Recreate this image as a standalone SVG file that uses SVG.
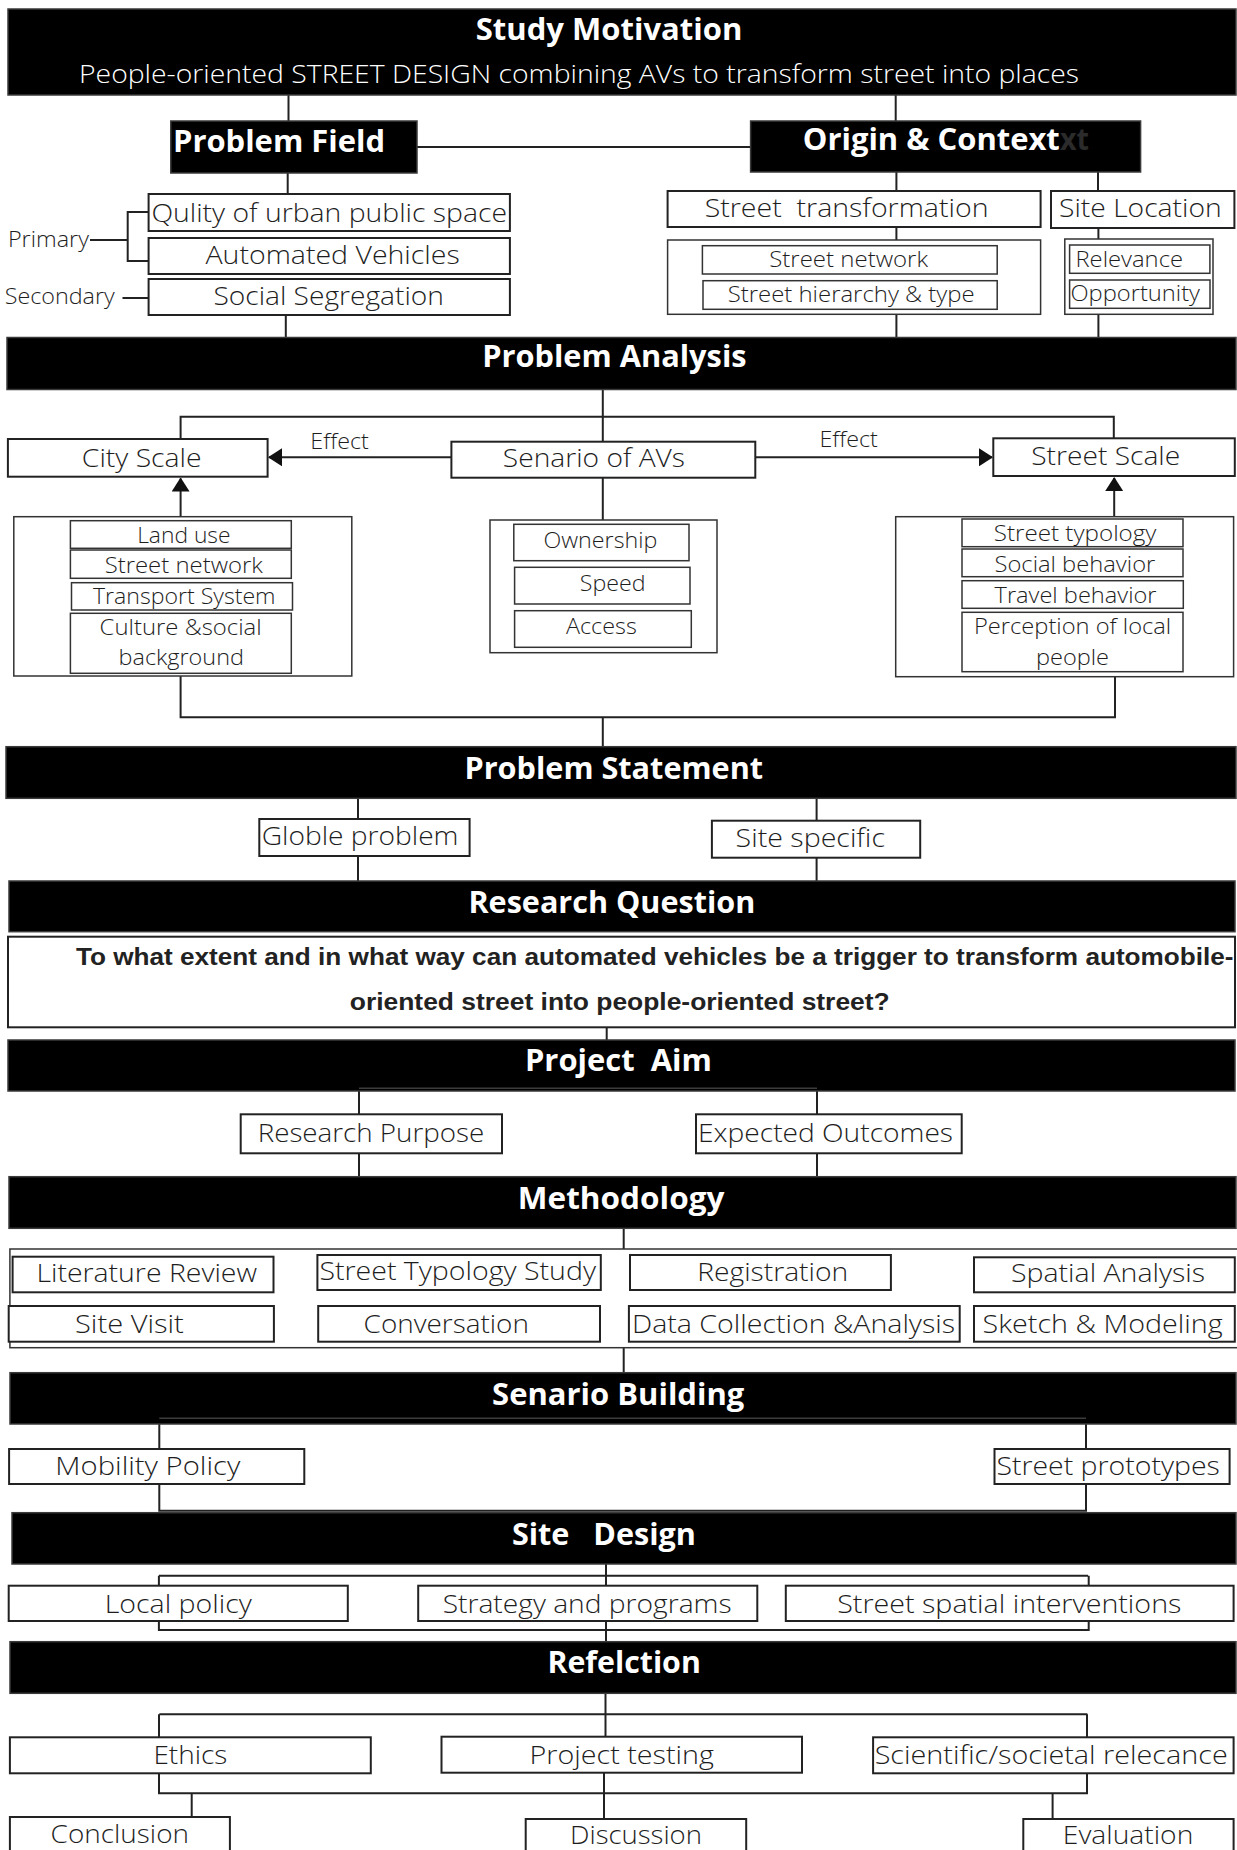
<svg xmlns="http://www.w3.org/2000/svg" width="1237" height="1850" viewBox="0 0 1237 1850">
  <defs>
    <marker id="ah" markerUnits="userSpaceOnUse" markerWidth="14" markerHeight="18" refX="13" refY="9" orient="auto">
      <path d="M0,0 L14,9 L0,18 z" fill="#111"/>
    </marker>
    <style>
      .bar { fill:#000; stroke:#3a3a3a; stroke-width:1.5; }
      .box { fill:#fff; stroke:#222; stroke-width:2; }
      .thin { fill:#fff; stroke:#333; stroke-width:1.5; }
      .ln { fill:none; stroke:#222; stroke-width:2; }
      .join { fill:none; stroke:#3c3c3c; stroke-width:1.5; }
      .h { font-family:"Open Sans","Liberation Sans",sans-serif; font-weight:700; font-size:30px; fill:#fff; }
      .t { font-family:"Open Sans","Liberation Sans",sans-serif; font-weight:300; font-size:26px; fill:#1e1e1e; }
      .s { font-family:"Open Sans","Liberation Sans",sans-serif; font-weight:300; font-size:22px; fill:#1e1e1e; }
      .q { font-family:"Liberation Sans",Arial,sans-serif; font-weight:700; font-size:23px; fill:#222; }
    </style>
  </defs>
  <rect width="1237" height="1850" fill="#fff"/>

  <!-- connectors -->
  <g id="connectors">
    <path class="ln" d="M288.5,95 V121"/>
    <path class="ln" d="M895.7,95 V121"/>
    <path class="ln" d="M417,147 H750.6"/>
    <path class="ln" d="M287.7,173 V194"/>
    <path class="ln" d="M90,240 H127.7"/>
    <path class="ln" d="M148.6,212 H127.7 V261 H148.6"/>
    <path class="ln" d="M122.5,298 H148.6"/>
    <path class="ln" d="M285.8,315 V338"/>
    <path class="ln" d="M896.4,172 V191"/>
    <path class="ln" d="M1098,172 V191"/>
    <path class="ln" d="M896.4,227 V240"/>
    <path class="ln" d="M896.4,314 V338"/>
    <path class="ln" d="M1098.4,228 V239"/>
    <path class="ln" d="M1098.4,314 V338"/>
    <path class="ln" d="M602.8,389 V441.7"/>
    <path class="ln" d="M180.6,439 V416.7 H1113.8 V438.3"/>
    <path class="ln" d="M602.8,477.7 V520"/>
    <path class="ln" d="M451.4,457.3 H269" marker-end="url(#ah)"/>
    <path class="ln" d="M755.3,457.3 H992" marker-end="url(#ah)"/>
    <path class="ln" d="M180.6,516.7 V478.5" marker-end="url(#ah)"/>
    <path class="ln" d="M1114.2,516.7 V478" marker-end="url(#ah)"/>
    <path class="ln" d="M180.6,676 V717.3 H1115 V676.7"/>
    <path class="ln" d="M602.8,717.3 V746.7"/>
    <path class="ln" d="M358,798.3 V819"/>
    <path class="ln" d="M358,856 V881"/>
    <path class="ln" d="M816.6,798.3 V820.7"/>
    <path class="ln" d="M816.6,857.7 V881"/>
    <path class="ln" d="M606.7,1027.3 V1040"/>
    <path class="ln" d="M359,1088.3 V1176.7"/>
    <path class="ln" d="M817,1088.3 V1176.7"/>
    <path class="ln" d="M623.7,1228.3 V1249"/>
    <path class="ln" d="M623.7,1347.7 V1372.7"/>
    <path class="ln" d="M159.3,1418.3 V1510.7 H1086 V1418.3"/>
    <path class="ln" d="M606,1564 V1585.7"/>
    <path class="ln" d="M158.9,1575.7 H1088.1"/>
    <path class="ln" d="M158.9,1575.7 V1630 H1088.7 V1575.7"/>
    <path class="ln" d="M606,1621 V1641.7"/>
    <path class="ln" d="M605.5,1693.3 V1736.7"/>
    <path class="ln" d="M159.3,1714.3 H1087.4"/>
    <path class="ln" d="M159,1714.3 V1793.3 H1087 V1714.3"/>
    <path class="ln" d="M604,1772.7 V1819"/>
    <path class="ln" d="M191.7,1793.3 V1817"/>
    <path class="ln" d="M1052.6,1793.3 V1819"/>
  </g>

  <!-- section bars -->
  <g id="study-motivation">
    <rect class="bar" x="8" y="9" width="1228" height="86"/>
    <text class="h" x="475.7" y="40" textLength="266.7" lengthAdjust="spacingAndGlyphs">Study Motivation</text>
    <text class="t" x="79" y="83" fill="#fff" style="fill:#fff" textLength="1000" lengthAdjust="spacingAndGlyphs">People-oriented STREET DESIGN combining AVs to transform street into places</text>
  </g>
  <g id="problem-field">
    <rect class="bar" x="170.8" y="121" width="246.2" height="52"/>
    <text class="h" x="173" y="152" textLength="212" lengthAdjust="spacingAndGlyphs">Problem Field</text>
  </g>
  <g id="origin-context">
    <rect class="bar" x="750.6" y="121" width="390" height="51"/>
    <text class="h" x="802.8" y="150" textLength="257" lengthAdjust="spacingAndGlyphs">Origin &amp; Context</text>
    <text class="h" x="1060" y="150" style="fill:#2b2b2b" textLength="29" lengthAdjust="spacingAndGlyphs">xt</text>
  </g>
  <g id="quality">
    <rect class="box" x="148.6" y="194" width="361.3" height="37"/>
    <text class="t" x="151.4" y="222" textLength="355.6" lengthAdjust="spacingAndGlyphs">Qulity of urban public space</text>
  </g>
  <g id="automated-vehicles">
    <rect class="box" x="148.6" y="238" width="361.3" height="36"/>
    <text class="t" x="205.5" y="264" textLength="254.2" lengthAdjust="spacingAndGlyphs">Automated Vehicles</text>
  </g>
  <g id="social-segregation">
    <rect class="box" x="148.6" y="279" width="361.3" height="36"/>
    <text class="t" x="213.4" y="305" textLength="230.5" lengthAdjust="spacingAndGlyphs">Social Segregation</text>
  </g>
  <g id="primary-label">
    <text class="s" x="7.9" y="247" textLength="81" lengthAdjust="spacingAndGlyphs">Primary</text>
  </g>
  <g id="secondary-label">
    <text class="s" x="4.7" y="304" textLength="110" lengthAdjust="spacingAndGlyphs">Secondary</text>
  </g>
  <g id="street-transformation">
    <rect class="box" x="667.6" y="191" width="373" height="36"/>
    <text class="t" x="704.7" y="217" textLength="283.8" lengthAdjust="spacingAndGlyphs" xml:space="preserve">Street  transformation</text>
  </g>
  <g id="site-location">
    <rect class="box" x="1051" y="191" width="183.4" height="37"/>
    <text class="t" x="1059" y="217" textLength="162.7" lengthAdjust="spacingAndGlyphs">Site Location</text>
  </g>
  <g id="street-transformation-items">
    <rect class="thin" x="667.6" y="240" width="373" height="74.3"/>
    <rect class="thin" x="702.4" y="245.7" width="294.8" height="28.3"/>
    <text class="s" x="769.2" y="266.7" textLength="158.9" lengthAdjust="spacingAndGlyphs">Street network</text>
    <rect class="thin" x="703" y="280.7" width="294.2" height="28.6"/>
    <text class="s" x="727.7" y="301.7" textLength="247" lengthAdjust="spacingAndGlyphs">Street hierarchy &amp; type</text>
  </g>
  <g id="site-location-items">
    <rect class="thin" x="1064.8" y="239" width="148.2" height="75.3"/>
    <rect class="thin" x="1069.6" y="245" width="140.3" height="28.3"/>
    <text class="s" x="1075.5" y="266.7" textLength="107.5" lengthAdjust="spacingAndGlyphs">Relevance</text>
    <rect class="thin" x="1069.6" y="280" width="140.4" height="28.3"/>
    <text class="s" x="1070.4" y="301" textLength="129.6" lengthAdjust="spacingAndGlyphs">Opportunity</text>
  </g>

  <g id="problem-analysis">
    <rect class="bar" x="7" y="337.5" width="1229" height="52"/>
    <text class="h" x="482.2" y="367.3" textLength="264.4" lengthAdjust="spacingAndGlyphs">Problem Analysis</text>
  </g>
  <g id="city-scale">
    <rect class="box" x="7.9" y="439" width="259.7" height="37.7"/>
    <text class="t" x="81.8" y="466.7" textLength="119.8" lengthAdjust="spacingAndGlyphs">City Scale</text>
  </g>
  <g id="effect-left">
    <text class="s" x="310.3" y="449.3" textLength="58.5" lengthAdjust="spacingAndGlyphs">Effect</text>
  </g>
  <g id="senario-avs">
    <rect class="box" x="451.4" y="441.7" width="303.9" height="36"/>
    <text class="t" x="502.8" y="466.7" textLength="182.2" lengthAdjust="spacingAndGlyphs">Senario of AVs</text>
  </g>
  <g id="effect-right">
    <text class="s" x="819.4" y="447.3" textLength="58.5" lengthAdjust="spacingAndGlyphs">Effect</text>
  </g>
  <g id="street-scale">
    <rect class="box" x="993.3" y="438.3" width="241.5" height="37.7"/>
    <text class="t" x="1031.2" y="465" textLength="149" lengthAdjust="spacingAndGlyphs">Street Scale</text>
  </g>
  <g id="city-scale-items">
    <rect class="thin" x="13.8" y="516.7" width="338" height="159.3"/>
    <rect class="thin" x="70.4" y="520.7" width="220.9" height="27.6"/>
    <text class="s" x="137.2" y="542.7" textLength="93.3" lengthAdjust="spacingAndGlyphs">Land use</text>
    <rect class="thin" x="70.4" y="550" width="220.9" height="28.3"/>
    <text class="s" x="104.7" y="572.7" textLength="158.1" lengthAdjust="spacingAndGlyphs">Street network</text>
    <rect class="thin" x="71.5" y="582.7" width="221" height="27.3"/>
    <text class="s" x="92.9" y="604" textLength="182.6" lengthAdjust="spacingAndGlyphs">Transport System</text>
    <rect class="thin" x="70.4" y="613.3" width="220.9" height="60"/>
    <text class="s" x="99.6" y="635" textLength="162.1" lengthAdjust="spacingAndGlyphs">Culture &amp;social</text>
    <text class="s" x="118.6" y="665" textLength="125.3" lengthAdjust="spacingAndGlyphs">background</text>
  </g>
  <g id="senario-items">
    <rect class="thin" x="490" y="520" width="227" height="132.7"/>
    <rect class="thin" x="513.8" y="524.3" width="175.2" height="36.4"/>
    <text class="s" x="543.5" y="548.3" textLength="113.8" lengthAdjust="spacingAndGlyphs">Ownership</text>
    <rect class="thin" x="514.6" y="567.3" width="175.4" height="36.7"/>
    <text class="s" x="579.8" y="590.7" textLength="65.7" lengthAdjust="spacingAndGlyphs">Speed</text>
    <rect class="thin" x="514.6" y="610.7" width="176.7" height="36.6"/>
    <text class="s" x="566" y="634" textLength="70.8" lengthAdjust="spacingAndGlyphs">Access</text>
  </g>
  <g id="street-scale-items">
    <rect class="thin" x="895.7" y="516.7" width="337.9" height="160"/>
    <rect class="thin" x="962" y="519" width="221" height="27.7"/>
    <text class="s" x="993.7" y="540.7" textLength="162.8" lengthAdjust="spacingAndGlyphs">Street typology</text>
    <rect class="thin" x="962" y="549" width="221" height="27.7"/>
    <text class="s" x="994.5" y="571.7" textLength="160.8" lengthAdjust="spacingAndGlyphs">Social behavior</text>
    <rect class="thin" x="962" y="580.7" width="221.3" height="27.6"/>
    <text class="s" x="994.5" y="602.7" textLength="162" lengthAdjust="spacingAndGlyphs">Travel behavior</text>
    <rect class="thin" x="962" y="612.3" width="221" height="59.4"/>
    <text class="s" x="974" y="634" textLength="197.2" lengthAdjust="spacingAndGlyphs">Perception of local</text>
    <text class="s" x="1036" y="665" textLength="73" lengthAdjust="spacingAndGlyphs">people</text>
  </g>

  <g id="problem-statement">
    <rect class="bar" x="6" y="746.7" width="1230" height="51.6"/>
    <text class="h" x="464.4" y="779.3" textLength="298.8" lengthAdjust="spacingAndGlyphs">Problem Statement</text>
  </g>
  <g id="globle-problem">
    <rect class="box" x="259.3" y="819" width="210.3" height="37"/>
    <text class="t" x="261.7" y="845" textLength="196.8" lengthAdjust="spacingAndGlyphs">Globle problem</text>
  </g>
  <g id="site-specific">
    <rect class="box" x="711.9" y="820.7" width="208.3" height="37"/>
    <text class="t" x="735.6" y="846.7" textLength="149.4" lengthAdjust="spacingAndGlyphs">Site specific</text>
  </g>

  <g id="research-question">
    <rect class="bar" x="9" y="881" width="1226" height="50.7"/>
    <text class="h" x="468.4" y="912.7" textLength="286.9" lengthAdjust="spacingAndGlyphs">Research Question</text>
  </g>
  <g id="question">
    <rect class="box" x="8" y="936.7" width="1227" height="90.6"/>
    <text class="q" x="75.9" y="965" textLength="1157.7" lengthAdjust="spacingAndGlyphs">To what extent and in what way can automated vehicles be a trigger to transform automobile-</text>
    <text class="q" x="349.8" y="1010" textLength="539.9" lengthAdjust="spacingAndGlyphs">oriented street into people-oriented street?</text>
  </g>

  <g id="project-aim">
    <rect class="bar" x="8" y="1040" width="1227" height="51"/>
    <text class="h" x="524.9" y="1071" textLength="187" lengthAdjust="spacingAndGlyphs" xml:space="preserve">Project  Aim</text>
  </g>
  <g id="research-purpose">
    <rect class="box" x="240.7" y="1114.3" width="261.3" height="39"/>
    <text class="t" x="257.7" y="1141.7" textLength="226.5" lengthAdjust="spacingAndGlyphs">Research Purpose</text>
  </g>
  <g id="expected-outcomes">
    <rect class="box" x="696" y="1114.3" width="265.7" height="39"/>
    <text class="t" x="698" y="1141.7" textLength="255" lengthAdjust="spacingAndGlyphs">Expected Outcomes</text>
  </g>

  <g id="methodology">
    <rect class="bar" x="9" y="1176.7" width="1227" height="51.6"/>
    <text class="h" x="517.8" y="1209.3" textLength="206.7" lengthAdjust="spacingAndGlyphs">Methodology</text>
  </g>
  <g id="methods">
    <rect class="thin" x="9.9" y="1249" width="1230" height="98.7"/>
    <rect class="box" x="12.6" y="1256.7" width="260.9" height="35.6"/>
    <text class="t" x="36.4" y="1282.3" textLength="220.6" lengthAdjust="spacingAndGlyphs">Literature Review</text>
    <rect class="box" x="317.4" y="1255" width="283.4" height="35"/>
    <text class="t" x="319.4" y="1280" textLength="276.6" lengthAdjust="spacingAndGlyphs">Street Typology Study</text>
    <rect class="box" x="630" y="1255" width="260.9" height="35"/>
    <text class="t" x="697.2" y="1281" textLength="151" lengthAdjust="spacingAndGlyphs">Registration</text>
    <rect class="box" x="974" y="1257.3" width="260.8" height="35"/>
    <text class="t" x="1011" y="1282.3" textLength="194" lengthAdjust="spacingAndGlyphs">Spatial Analysis</text>
    <rect class="box" x="8.7" y="1306" width="265.2" height="35.7"/>
    <text class="t" x="75" y="1332.7" textLength="108.8" lengthAdjust="spacingAndGlyphs">Site Visit</text>
    <rect class="box" x="318.2" y="1306" width="281.8" height="35.7"/>
    <text class="t" x="363.6" y="1332.7" textLength="165.3" lengthAdjust="spacingAndGlyphs">Conversation</text>
    <rect class="box" x="628.9" y="1306" width="330.8" height="35.7"/>
    <text class="t" x="632" y="1332.7" textLength="323" lengthAdjust="spacingAndGlyphs">Data Collection &amp;Analysis</text>
    <rect class="box" x="974" y="1306" width="260.8" height="35.7"/>
    <text class="t" x="982.6" y="1332.7" textLength="240" lengthAdjust="spacingAndGlyphs">Sketch &amp; Modeling</text>
  </g>

  <g id="senario-building">
    <rect class="bar" x="10" y="1372.7" width="1226" height="51.3"/>
    <text class="h" x="492.1" y="1405" textLength="252.2" lengthAdjust="spacingAndGlyphs">Senario Building</text>
  </g>
  <g id="mobility-policy">
    <rect class="box" x="9.1" y="1449" width="295.2" height="35"/>
    <text class="t" x="55.3" y="1475" textLength="185" lengthAdjust="spacingAndGlyphs">Mobility Policy</text>
  </g>
  <g id="street-prototypes">
    <rect class="box" x="994.5" y="1449" width="235.1" height="35"/>
    <text class="t" x="996.4" y="1475" textLength="223.4" lengthAdjust="spacingAndGlyphs">Street prototypes</text>
  </g>

  <g id="site-design">
    <rect class="bar" x="12" y="1512.7" width="1224" height="51.3"/>
    <text class="h" x="511.9" y="1545" textLength="184" lengthAdjust="spacingAndGlyphs" xml:space="preserve">Site   Design</text>
  </g>
  <g id="local-policy">
    <rect class="box" x="8.7" y="1585.7" width="339.1" height="35.3"/>
    <text class="t" x="104.7" y="1612.7" textLength="147.1" lengthAdjust="spacingAndGlyphs">Local policy</text>
  </g>
  <g id="strategy-programs">
    <rect class="box" x="418.2" y="1585.7" width="339.1" height="35.3"/>
    <text class="t" x="442.7" y="1612.7" textLength="288.9" lengthAdjust="spacingAndGlyphs">Strategy and programs</text>
  </g>
  <g id="street-spatial-interventions">
    <rect class="box" x="785.8" y="1585.7" width="447.8" height="35.3"/>
    <text class="t" x="837.2" y="1612.7" textLength="344.2" lengthAdjust="spacingAndGlyphs">Street spatial interventions</text>
  </g>

  <g id="refelction">
    <rect class="bar" x="10" y="1641.7" width="1226" height="51.6"/>
    <text class="h" x="547.4" y="1673.3" textLength="153.4" lengthAdjust="spacingAndGlyphs">Refelction</text>
  </g>
  <g id="ethics">
    <rect class="box" x="9.9" y="1737.3" width="360.9" height="36"/>
    <text class="t" x="153.4" y="1764.3" textLength="73.9" lengthAdjust="spacingAndGlyphs">Ethics</text>
  </g>
  <g id="project-testing">
    <rect class="box" x="441.5" y="1736.7" width="360.5" height="36"/>
    <text class="t" x="529.6" y="1764.3" textLength="184.2" lengthAdjust="spacingAndGlyphs">Project testing</text>
  </g>
  <g id="scientific-relecance">
    <rect class="box" x="873.1" y="1737.3" width="360.5" height="36"/>
    <text class="t" x="874.7" y="1764.3" textLength="353" lengthAdjust="spacingAndGlyphs">Scientific/societal relecance</text>
  </g>
  <g id="conclusion">
    <rect class="box" x="9.9" y="1817" width="220" height="45"/>
    <text class="t" x="50.6" y="1843" textLength="138.4" lengthAdjust="spacingAndGlyphs">Conclusion</text>
  </g>
  <g id="discussion">
    <rect class="box" x="525.7" y="1819" width="220.5" height="45"/>
    <text class="t" x="570" y="1843.5" textLength="132" lengthAdjust="spacingAndGlyphs">Discussion</text>
  </g>
  <g id="evaluation">
    <rect class="box" x="1023.3" y="1819" width="210.3" height="45"/>
    <text class="t" x="1062.8" y="1843.5" textLength="130.5" lengthAdjust="spacingAndGlyphs">Evaluation</text>
  </g>

  <!-- bracket tops that run along the lower edge of two bars -->
  <g id="bar-joins">
    <path class="join" d="M359,1088.3 H817"/>
    <path class="join" d="M159.3,1418.3 H1086"/>
  </g>
</svg>
